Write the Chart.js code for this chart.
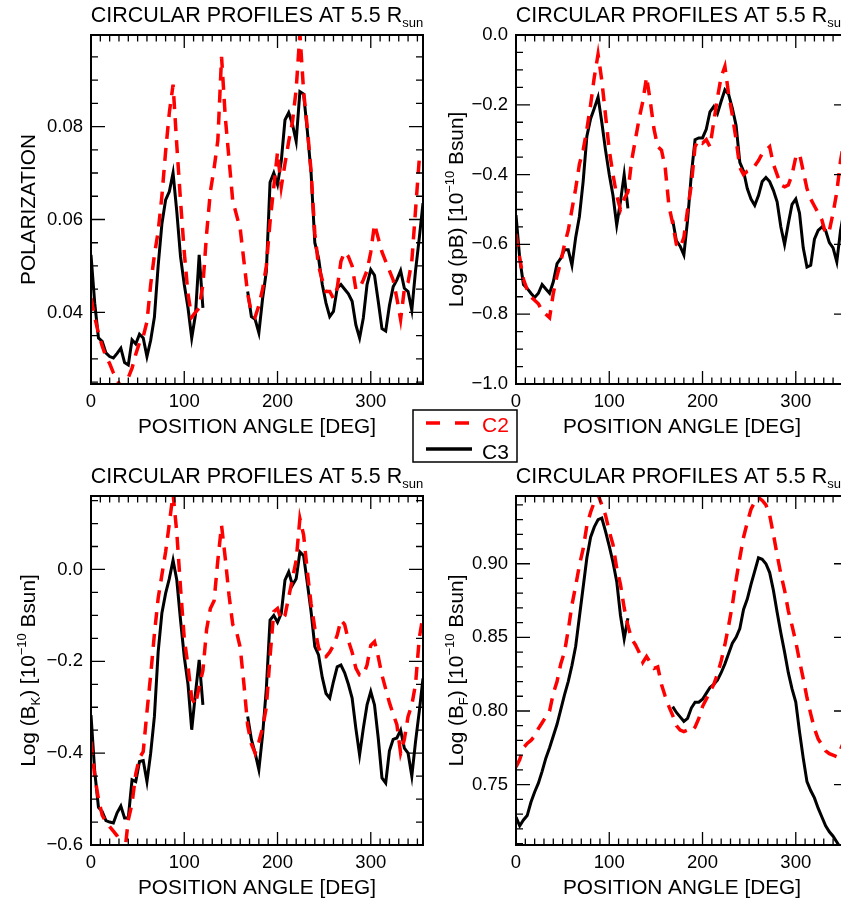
<!DOCTYPE html>
<html>
<head>
<meta charset="utf-8">
<title>Circular profiles at 5.5 Rsun</title>
<script src="https://cdn.jsdelivr.net/npm/chart.js@4.4.1/dist/chart.umd.min.js"></script>
<style>
html, body { margin: 0; padding: 0; background: #fff; overflow: hidden; }
#wrap { position: relative; width: 860px; height: 902px; }
#wrap canvas { position: absolute; left: 0; top: 0; }
</style>
</head>
<body>
<div id="wrap">
<canvas id="polChart" width="860" height="902"></canvas>
<canvas id="pbChart" width="860" height="902"></canvas>
<canvas id="bkChart" width="860" height="902"></canvas>
<canvas id="bfChart" width="860" height="902"></canvas>
</div>
<script>
// position angle grid (deg)
const angles = [0, 4, 8, 12, 16, 20, 24, 28, 32, 36, 40, 44, 48, 52, 56, 60, 64, 68, 72, 76,
    80, 84, 88, 92, 96, 100, 104, 108, 112, 116, 120, 124, 128, 132, 136, 140, 144, 148, 152, 156,
    160, 164, 168, 172, 176, 180, 184, 188, 192, 196, 200, 204, 208, 212, 216, 220, 224, 228, 232, 236,
    240, 244, 248, 252, 256, 260, 264, 268, 272, 276, 280, 284, 288, 292, 296, 300, 304, 308, 312, 316,
    320, 324, 328, 332, 336, 340, 344, 348, 352, 356];
const angleTicks = [0, 100, 200, 300];

// polarization
const polC2 = [0.0431, 0.039, 0.0355, 0.0328, 0.0305, 0.029, 0.027, 0.0255, 0.024, 0.0238,
    0.026, 0.028, 0.031, 0.0335, 0.0348, 0.038, 0.046, 0.0524, 0.0574, 0.065,
    0.0746, 0.083, 0.089, 0.076, 0.064, 0.053, 0.044, 0.039, 0.040, 0.041,
    0.046, 0.057, 0.066, 0.071, 0.077, 0.095, 0.082, 0.073, 0.064, 0.061,
    0.058, 0.051, 0.044, 0.040, 0.039, 0.0415, 0.045, 0.050, 0.0595, 0.067,
    0.0745, 0.067, 0.072, 0.0768, 0.081, 0.088, 0.100, 0.0875, 0.0797, 0.0703,
    0.057, 0.050, 0.047, 0.0445, 0.0445, 0.043, 0.0452, 0.051, 0.053, 0.052,
    0.050, 0.045, 0.0452, 0.047, 0.049, 0.053, 0.059, 0.056, 0.053, 0.051,
    0.049, 0.047, 0.043, 0.0385, 0.045, 0.0465, 0.051, 0.062, 0.073, 0.072];
const polC3 = [0.0524, 0.042, 0.0345, 0.0338, 0.0313, 0.0305, 0.0302, 0.0312, 0.0323, 0.0292,
    0.0287, 0.0341, 0.0332, 0.0353, 0.0345, 0.0305, 0.034, 0.039, 0.050, 0.059,
    0.0642, 0.066, 0.070, 0.0617, 0.052, 0.046, 0.041, 0.0345, 0.0395, 0.0524,
    0.041, null, null, null, null, null, null, null, null, null,
    null, null, 0.0445, 0.0391, 0.0385, 0.0356, 0.043, 0.0488, 0.0680, 0.0700,
    0.0675, 0.0725, 0.0814, 0.0830, 0.0805, 0.0768, 0.0875, 0.0870, 0.0790, 0.0700,
    0.0550, 0.0517, 0.0460, 0.0420, 0.0391, 0.0402, 0.0452, 0.0460, 0.0450, 0.0440,
    0.0424, 0.0373, 0.0345, 0.0388, 0.0460, 0.0492, 0.0480, 0.0424, 0.0365, 0.0360,
    0.0415, 0.0455, 0.0470, 0.0490, 0.0452, 0.0445, 0.0405, 0.0490, 0.0560, 0.0635];
const polTicks = [0.04, 0.06, 0.08];

// log pB
const pbC2 = [-0.57, -0.64, -0.70, -0.73, -0.75, -0.76, -0.77, -0.79, -0.80, -0.81,
    -0.74, -0.69, -0.65, -0.60, -0.56, -0.50, -0.44, -0.37, -0.33, -0.27,
    -0.20, -0.12, -0.055, -0.13, -0.23, -0.33, -0.40, -0.46, -0.50, -0.47,
    -0.45, -0.36, -0.30, -0.24, -0.19, -0.12, -0.19, -0.27, -0.32, -0.33,
    -0.38, -0.49, -0.54, -0.60, -0.61, -0.58, -0.50, -0.43, -0.32, -0.30,
    -0.31, -0.30, -0.32, -0.25, -0.18, -0.12, -0.09, -0.17, -0.23, -0.30,
    -0.38, -0.40, -0.39, -0.385, -0.375, -0.36, -0.34, -0.33, -0.32, -0.37,
    -0.40, -0.43, -0.435, -0.43, -0.40, -0.35, -0.34, -0.39, -0.44, -0.47,
    -0.49, -0.51, -0.53, -0.57, -0.56, -0.51, -0.45, -0.36, -0.30, -0.28];
const pbC3 = [-0.516, -0.64, -0.715, -0.726, -0.74, -0.752, -0.74, -0.715, -0.728, -0.74,
    -0.707, -0.655, -0.64, -0.615, -0.615, -0.66, -0.58, -0.52, -0.42, -0.29,
    -0.24, -0.21, -0.178, -0.25, -0.33, -0.40, -0.46, -0.545, -0.478, -0.40,
    -0.497, null, null, null, null, null, null, null, null, null,
    null, null, -0.53, -0.59, -0.605, -0.63, -0.53, -0.40, -0.30, -0.295,
    -0.295, -0.27, -0.22, -0.205, -0.225, -0.19, -0.157, -0.17, -0.21, -0.259,
    -0.365, -0.39, -0.44, -0.47, -0.488, -0.46, -0.42, -0.408, -0.42, -0.445,
    -0.478, -0.55, -0.60, -0.54, -0.485, -0.47, -0.51, -0.61, -0.665, -0.66,
    -0.585, -0.56, -0.55, -0.56, -0.595, -0.61, -0.65, -0.56, -0.50, -0.48];
const pbTicks = [-1.0, -0.8, -0.6, -0.4, -0.2, 0.0];

// log B_K
const bkC2 = [-0.375, -0.45, -0.50, -0.535, -0.55, -0.56, -0.57, -0.58, -0.595, -0.62,
    -0.545, -0.51, -0.445, -0.41, -0.397, -0.31, -0.23, -0.14, -0.063, -0.012,
    0.038, 0.10, 0.165, 0.08, -0.04, -0.15, -0.21, -0.28, -0.295, -0.255,
    -0.22, -0.13, -0.085, -0.068, 0.02, 0.096, 0.024, -0.056, -0.12, -0.135,
    -0.17, -0.25, -0.34, -0.38, -0.40, -0.375, -0.345, -0.30, -0.19, -0.092,
    -0.085, -0.11, -0.10, -0.06, -0.02, 0.02, 0.111, 0.075, -0.005, -0.075,
    -0.128, -0.17, -0.19, -0.19, -0.18, -0.165, -0.143, -0.11, -0.12, -0.155,
    -0.18, -0.215, -0.23, -0.23, -0.208, -0.165, -0.157, -0.19, -0.23, -0.26,
    -0.29, -0.315, -0.338, -0.40, -0.37, -0.32, -0.295, -0.25, -0.15, -0.10];
const bkC3 = [-0.317, -0.44, -0.518, -0.527, -0.547, -0.55, -0.552, -0.53, -0.515, -0.541,
    -0.541, -0.458, -0.462, -0.418, -0.416, -0.462, -0.40, -0.32, -0.18, -0.095,
    -0.052, -0.02, 0.02, -0.023, -0.11, -0.19, -0.25, -0.349, -0.27, -0.197,
    -0.295, null, null, null, null, null, null, null, null, null,
    null, null, -0.32, -0.37, -0.40, -0.436, -0.36, -0.26, -0.11, -0.10,
    -0.115, -0.096, -0.023, -0.005, -0.034, -0.02, 0.038, 0.03, -0.03, -0.092,
    -0.168, -0.186, -0.235, -0.27, -0.28, -0.244, -0.212, -0.208, -0.225, -0.25,
    -0.28, -0.346, -0.404, -0.346, -0.295, -0.266, -0.295, -0.367, -0.454, -0.465,
    -0.395, -0.37, -0.367, -0.35, -0.389, -0.40, -0.45, -0.375, -0.309, -0.237];
const bkTicks = [-0.6, -0.4, -0.2, 0.0];

// log B_F
const bfC2 = [0.762, 0.767, 0.775, 0.778, 0.780, 0.783, 0.788, 0.792, 0.796, 0.800,
    0.812, 0.820, 0.832, 0.840, 0.855, 0.872, 0.885, 0.899, 0.910, 0.926,
    0.935, 0.942, 0.947, 0.940, 0.933, 0.922, 0.913, 0.897, 0.886, 0.870,
    0.858, 0.849, 0.845, 0.840, 0.833, 0.837, 0.833, 0.829, 0.830, 0.818,
    0.810, 0.803, 0.797, 0.790, 0.787, 0.786, 0.787, 0.786, 0.789, 0.795,
    0.803, 0.808, 0.813, 0.818, 0.825, 0.834, 0.845, 0.858, 0.872, 0.889,
    0.904, 0.918, 0.928, 0.937, 0.942, 0.945, 0.943, 0.940, 0.933, 0.920,
    0.906, 0.893, 0.882, 0.868, 0.858, 0.847, 0.834, 0.822, 0.809, 0.798,
    0.788, 0.781, 0.777, 0.773, 0.771, 0.770, 0.769, 0.774, 0.780, 0.785];
const bfC3 = [0.728, 0.722, 0.726, 0.729, 0.738, 0.745, 0.751, 0.759, 0.768, 0.775,
    0.783, 0.791, 0.801, 0.811, 0.820, 0.831, 0.844, 0.864, 0.884, 0.904,
    0.918, 0.925, 0.930, 0.931, 0.922, 0.912, 0.901, 0.888, 0.865, 0.849,
    0.863, null, null, null, null, null, null, null, null, null,
    null, null, 0.803, 0.799, 0.796, 0.793, 0.795, 0.802, 0.806, 0.806,
    0.808, 0.812, 0.816, 0.818, 0.821, 0.826, 0.832, 0.839, 0.846, 0.850,
    0.856, 0.869, 0.876, 0.886, 0.895, 0.904, 0.903, 0.900, 0.894, 0.882,
    0.867, 0.853, 0.840, 0.826, 0.815, 0.806, 0.786, 0.768, 0.752, 0.746,
    0.741, 0.734, 0.728, 0.722, 0.718, 0.715, 0.711, 0.707, 0.703, 0.700];
const bfTicks = [0.75, 0.80, 0.85, 0.90];

const FONT = "'Liberation Sans', Arial, Helvetica, sans-serif";
const MINUS = '\u2212';

const toPoints = vals => angles.map((a, i) => ({ x: a, y: vals[i] }));
const fmt = digits => v => v.toFixed(digits).replace('-', MINUS);

const richWidth = (ctx, parts) => parts.reduce((w, p) => {
    ctx.font = `${p.size}px ${FONT}`;
    return w + ctx.measureText(p.text).width;
}, 0);

// draws text runs (sub/superscripts) centred on cx, baseline at cy
const drawRich = (ctx, parts, cx, cy, rotate) => {
    ctx.save();
    ctx.translate(cx, cy);
    if (rotate) ctx.rotate(-Math.PI / 2);
    let x = -richWidth(ctx, parts) / 2;
    ctx.textAlign = 'left';
    ctx.textBaseline = 'alphabetic';
    parts.forEach(p => {
        ctx.font = `${p.size}px ${FONT}`;
        ctx.fillStyle = p.color || '#000';
        ctx.fillText(p.text, x, p.dy || 0);
        x += ctx.measureText(p.text).width;
    });
    ctx.restore();
};

const titleParts = [{ text: 'CIRCULAR PROFILES AT 5.5 R', size: 21.5 }, { text: 'sun', size: 13, dy: 5 }];
const xTitleParts = [{ text: 'POSITION ANGLE [DEG]', size: 20.8 }];
const unitParts = [{ text: ') [10', size: 20.8 }, { text: MINUS + '10', size: 13, dy: -9 }, { text: ' Bsun]', size: 20.8 }];

// IDL style box: frame with inward ticks on all four sides, plus titles
const idlFrame = {
    id: 'idlFrame',
    afterDatasetsDraw(chart, args, opts) {
        const { ctx, chartArea: a, scales: { x, y } } = chart;
        ctx.save();
        ctx.strokeStyle = '#000';
        ctx.lineWidth = 1.3;
        ctx.beginPath();
        for (let v = 0; v <= x.max; v += 10) {
            const px = x.getPixelForValue(v);
            const len = v % 100 === 0 ? 13 : 6.5;
            ctx.moveTo(px, a.bottom); ctx.lineTo(px, a.bottom - len);
            ctx.moveTo(px, a.top); ctx.lineTo(px, a.top + len);
        }
        for (let k = Math.ceil(y.min / opts.minor - 1e-6); k * opts.minor <= y.max + 1e-9; k++) {
            const py = y.getPixelForValue(k * opts.minor);
            const len = k % opts.ratio === 0 ? 14 : 7;
            ctx.moveTo(a.left, py); ctx.lineTo(a.left + len, py);
            ctx.moveTo(a.right, py); ctx.lineTo(a.right - len, py);
        }
        ctx.stroke();
        ctx.lineWidth = 2;
        ctx.strokeRect(a.left, a.top, a.right - a.left, a.bottom - a.top);

        const cx = (a.left + a.right) / 2;
        drawRich(ctx, titleParts, cx, a.top - 13);
        drawRich(ctx, xTitleParts, cx, a.bottom + 49);
        drawRich(ctx, opts.yTitle, opts.yTitleX, (a.top + a.bottom) / 2, true);

        if (opts.legend) {
            ctx.fillStyle = '#fff';
            ctx.fillRect(413, 410, 104, 52);
            ctx.lineWidth = 1.5;
            ctx.strokeRect(413, 410, 104, 52);
            ctx.lineWidth = 3.5;
            ctx.strokeStyle = '#ff0000';
            ctx.setLineDash([14, 15]);
            ctx.beginPath(); ctx.moveTo(426, 423); ctx.lineTo(469, 423); ctx.stroke();
            ctx.setLineDash([]);
            ctx.strokeStyle = '#000';
            ctx.beginPath(); ctx.moveTo(426, 449); ctx.lineTo(472, 449); ctx.stroke();
            ctx.font = `21px ${FONT}`;
            ctx.textAlign = 'left';
            ctx.fillStyle = '#ff0000';
            ctx.fillText('C2', 482, 432);
            ctx.fillStyle = '#000';
            ctx.fillText('C3', 482, 459);
        }
        ctx.restore();
    }
};

const makeChart = (id, c2, c3, cfg) => new Chart(document.getElementById(id), {
    type: 'line',
    data: {
        datasets: [
            { label: 'C2', data: toPoints(c2), borderColor: '#ff0000', borderWidth: 3.5, borderDash: [13, 9], pointRadius: 0, tension: 0, clip: 0 },
            { label: 'C3', data: toPoints(c3), borderColor: '#000000', borderWidth: 3, pointRadius: 0, tension: 0, clip: 0 }
        ]
    },
    plugins: [idlFrame],
    options: {
        responsive: false,
        animation: false,
        spanGaps: false,
        layout: { padding: { left: cfg.left - 60, top: cfg.top, right: 860 - cfg.left - 332, bottom: 902 - cfg.top - 349 - 40 } },
        plugins: {
            legend: { display: false },
            title: { display: false },
            tooltip: { enabled: false },
            idlFrame: { minor: cfg.minor, ratio: cfg.ratio, yTitle: cfg.yTitle, yTitleX: cfg.yTitleX, legend: !!cfg.legend }
        },
        scales: {
            x: {
                type: 'linear', min: 0, max: 356,
                afterBuildTicks: s => { s.ticks = angleTicks.map(v => ({ value: v })); },
                afterFit: s => { s.height = 40; },
                grid: { display: false, drawTicks: false }, border: { display: false },
                ticks: { font: { family: FONT, size: 18.5 }, color: '#000', padding: 7, maxRotation: 0, autoSkip: false, callback: v => String(v) }
            },
            y: {
                type: 'linear', min: cfg.min, max: cfg.max,
                afterBuildTicks: s => { s.ticks = cfg.ticks.map(v => ({ value: v })); },
                afterFit: s => { s.width = 60; },
                grid: { display: false, drawTicks: false }, border: { display: false },
                ticks: { font: { family: FONT, size: 18.5 }, color: '#000', padding: 8, autoSkip: false, callback: cfg.format }
            }
        }
    }
});

const main = () => {
    makeChart('polChart', polC2, polC3, {
        left: 91, top: 35, min: 0.0246, max: 0.0997, ticks: polTicks, format: fmt(2), minor: 0.005, ratio: 4,
        yTitle: [{ text: 'POLARIZATION', size: 20.8 }], yTitleX: 35
    });
    makeChart('pbChart', pbC2, pbC3, {
        left: 516, top: 35, min: -1.0, max: 0.0, ticks: pbTicks, format: fmt(1), minor: 0.05, ratio: 4,
        yTitle: [{ text: 'Log (pB', size: 20.8 }, ...unitParts], yTitleX: 463, legend: true
    });
    makeChart('bkChart', bkC2, bkC3, {
        left: 91, top: 496, min: -0.6, max: 0.16, ticks: bkTicks, format: fmt(1), minor: 0.05, ratio: 4,
        yTitle: [{ text: 'Log (B', size: 20.8 }, { text: 'K', size: 13, dy: 5 }, ...unitParts], yTitleX: 35
    });
    makeChart('bfChart', bfC2, bfC3, {
        left: 516, top: 496, min: 0.709, max: 0.946, ticks: bfTicks, format: fmt(2), minor: 0.01, ratio: 5,
        yTitle: [{ text: 'Log (B', size: 20.8 }, { text: 'F', size: 13, dy: 5 }, ...unitParts], yTitleX: 463
    });
};

window.addEventListener('DOMContentLoaded', main);
</script>
</body>
</html>
